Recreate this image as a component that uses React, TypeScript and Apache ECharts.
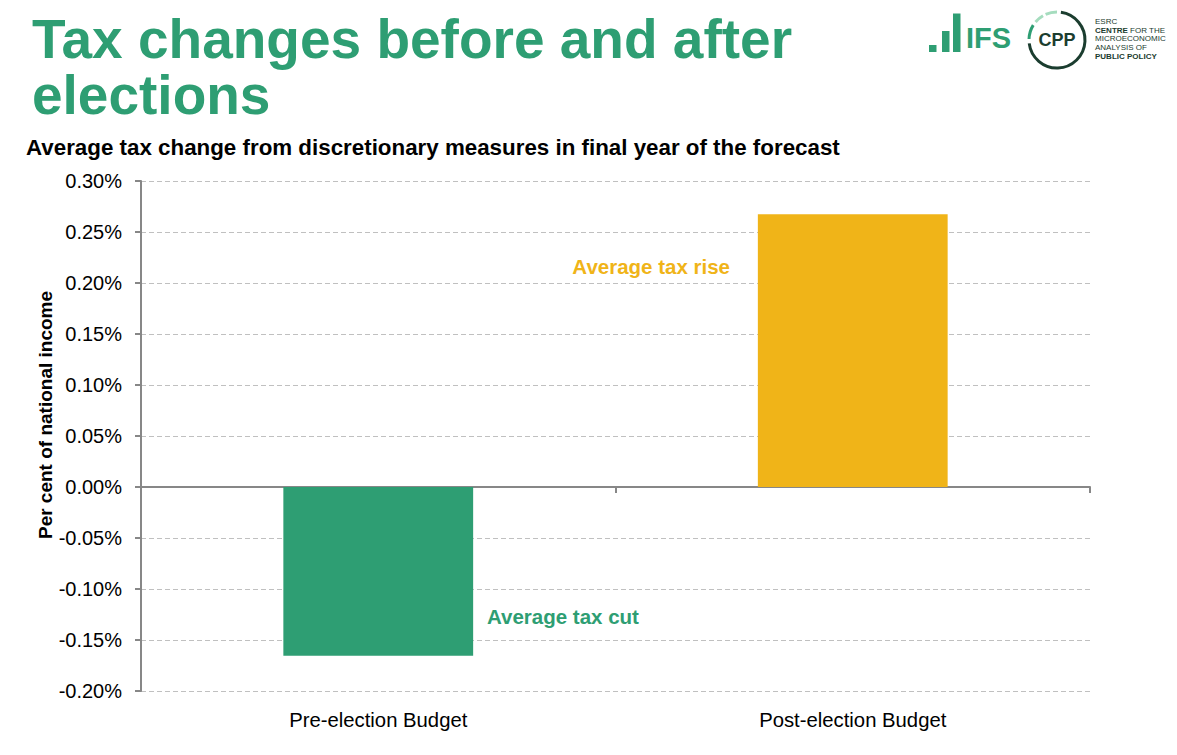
import React, { useEffect, useRef } from "react";
import * as echarts from "echarts";

const categories = ["Pre-election Budget", "Post-election Budget"];
const values = [-0.1655, 0.2675];
const barColors = ["#2E9E73", "#F0B418"];
const yMin = -0.2;
const yMax = 0.3;
const yStep = 0.05;
const annotationTexts = ["Average tax cut", "Average tax rise"];
const titleLines = ["Tax changes before and after", "elections"];

const FONT = "'Liberation Sans', Arial, sans-serif";
const AXIS_GREY = "#878787";
const LOGO_DARK = "#1B3D2F";
const LOGO_GREEN = "#2E9E73";
const LOGO_LIGHT = "#A5DCBE";

export default function App() {
  const ref = useRef<HTMLDivElement>(null);

  useEffect(() => {
    if (!ref.current) return;
    const chart = echarts.init(ref.current, undefined, { renderer: "svg" });

    const deg = (d: number) => (d * Math.PI) / 180;

    chart.setOption({
      animation: false,
      backgroundColor: "#ffffff",
      textStyle: { fontFamily: FONT },
      grid: { left: 141, right: 87, top: 181, bottom: 64, containLabel: false },
      xAxis: [
        {
          type: "category",
          data: categories,
          position: "bottom",
          axisLine: { show: false, onZero: false },
          axisTick: { show: false },
          splitLine: { show: false },
          axisLabel: { fontSize: 20.3, color: "#000", fontFamily: FONT, margin: 19 },
        },
        {
          type: "category",
          data: categories,
          position: "bottom",
          axisLine: { show: true, onZero: true, lineStyle: { color: AXIS_GREY, width: 2 } },
          axisTick: { show: true, length: 6, alignWithLabel: false, lineStyle: { color: AXIS_GREY, width: 2 } },
          axisLabel: { show: false },
          splitLine: { show: false },
        },
      ],
      yAxis: {
        type: "value",
        min: yMin,
        max: yMax,
        interval: yStep,
        axisLine: { show: true, lineStyle: { color: AXIS_GREY, width: 2 } },
        axisTick: { show: true, length: 6, lineStyle: { color: AXIS_GREY, width: 2 } },
        axisLabel: {
          fontSize: 20,
          color: "#000",
          fontFamily: FONT,
          margin: 19,
          formatter: (v: number) => v.toFixed(2) + "%",
        },
        splitLine: { show: true, lineStyle: { color: "#C0C0C0", width: 1, type: [5, 3] } },
      },
      series: [
        {
          type: "bar",
          xAxisIndex: 0,
          barWidth: "40%",
          data: values.map((v, i) => ({ value: v, itemStyle: { color: barColors[i] } })),
        },
      ],
      graphic: [
        {
          type: "text",
          x: 32,
          y: 39,
          style: {
            text: titleLines[0],
            fontSize: 55,
            fontWeight: "bold",
            fontFamily: FONT,
            fill: "#2E9E73",
            align: "left",
            verticalAlign: "middle",
          },
        },
        {
          type: "text",
          x: 32,
          y: 94.5,
          style: {
            text: titleLines[1],
            fontSize: 55,
            fontWeight: "bold",
            fontFamily: FONT,
            fill: "#2E9E73",
            align: "left",
            verticalAlign: "middle",
          },
        },
        {
          type: "text",
          x: 26,
          y: 147.5,
          style: {
            text: "Average tax change from discretionary measures in final year of the forecast",
            fontSize: 22.35,
            fontWeight: "bold",
            fontFamily: FONT,
            fill: "#000",
            align: "left",
            verticalAlign: "middle",
          },
        },
        {
          type: "text",
          x: 45,
          y: 415,
          rotation: Math.PI / 2,
          style: {
            text: "Per cent of national income",
            fontSize: 19,
            fontWeight: "bold",
            fontFamily: FONT,
            fill: "#000",
            align: "center",
            verticalAlign: "middle",
          },
        },
        {
          type: "text",
          x: 730,
          y: 266.5,
          style: {
            text: annotationTexts[1],
            fontSize: 20.5,
            fontWeight: "bold",
            fontFamily: FONT,
            fill: barColors[1],
            align: "right",
            verticalAlign: "middle",
          },
        },
        {
          type: "text",
          x: 487,
          y: 616.5,
          style: {
            text: annotationTexts[0],
            fontSize: 20.5,
            fontWeight: "bold",
            fontFamily: FONT,
            fill: barColors[0],
            align: "left",
            verticalAlign: "middle",
          },
        },
        // IFS logo
        { type: "rect", shape: { x: 929, y: 45, width: 7.5, height: 7 }, style: { fill: LOGO_GREEN } },
        { type: "rect", shape: { x: 942, y: 31, width: 7.5, height: 21 }, style: { fill: LOGO_GREEN } },
        { type: "rect", shape: { x: 953, y: 13.5, width: 7.5, height: 38.5 }, style: { fill: LOGO_GREEN } },
        {
          type: "text",
          x: 966,
          y: 52,
          style: {
            text: "IFS",
            fontSize: 29,
            fontWeight: "bold",
            fontFamily: FONT,
            fill: LOGO_GREEN,
            align: "left",
            verticalAlign: "bottom",
          },
        },
        // CPP logo ring
        {
          type: "arc",
          shape: { cx: 1057, cy: 40, r: 28, startAngle: deg(-82), endAngle: deg(173), clockwise: true },
          style: { stroke: LOGO_DARK, lineWidth: 3, fill: "none" },
        },
        {
          type: "arc",
          shape: { cx: 1057, cy: 40, r: 28, startAngle: deg(182), endAngle: deg(212), clockwise: true },
          style: { stroke: LOGO_GREEN, lineWidth: 3, fill: "none" },
        },
        {
          type: "arc",
          shape: { cx: 1057, cy: 40, r: 28, startAngle: deg(220), endAngle: deg(240), clockwise: true },
          style: { stroke: LOGO_LIGHT, lineWidth: 3, fill: "none" },
        },
        {
          type: "arc",
          shape: { cx: 1057, cy: 40, r: 28, startAngle: deg(246), endAngle: deg(270), clockwise: true },
          style: { stroke: LOGO_LIGHT, lineWidth: 3, fill: "none" },
        },
        {
          type: "text",
          x: 1057,
          y: 40,
          style: {
            text: "CPP",
            fontSize: 18,
            fontWeight: "bold",
            fontFamily: FONT,
            fill: LOGO_DARK,
            align: "center",
            verticalAlign: "middle",
          },
        },
        {
          type: "text",
          x: 1095,
          y: 17,
          style: {
            text: "ESRC\n{b|CENTRE} FOR THE\nMICROECONOMIC\nANALYSIS OF\n{b|PUBLIC POLICY}",
            fontSize: 8,
            lineHeight: 8.7,
            fontFamily: FONT,
            fill: LOGO_DARK,
            align: "left",
            verticalAlign: "top",
            rich: {
              b: { fontSize: 8, lineHeight: 8.7, fontWeight: "bold", fontFamily: FONT, fill: LOGO_DARK },
            },
          },
        },
      ],
    });

    return () => chart.dispose();
  }, []);

  return (
    <div
      ref={ref}
      style={{ position: "fixed", left: 0, top: 0, width: 1177, height: 755, background: "#fff" }}
    />
  );
}
